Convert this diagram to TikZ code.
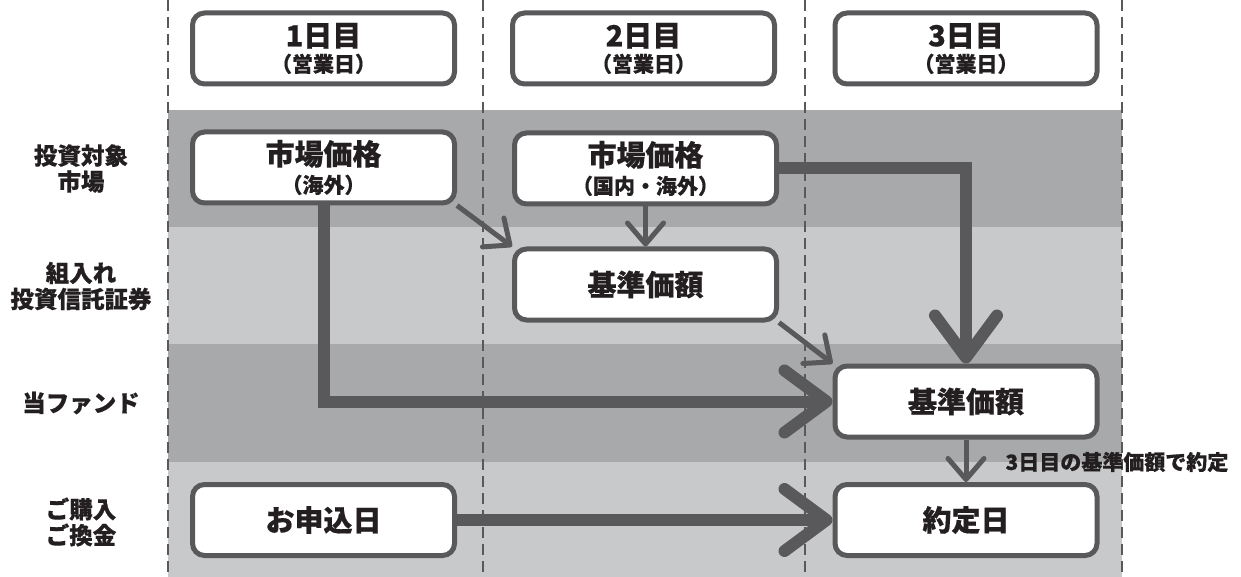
\documentclass[tikz,border=0pt]{standalone}
\usepackage{fontspec}
\setmainfont{Noto Sans CJK JP}[BoldFeatures={FakeBold=0.5}]
\usetikzlibrary{arrows.meta}
\usetikzlibrary{backgrounds}
\usetikzlibrary{positioning}
\definecolor{mline}{HTML}{59595B}
\definecolor{mdark}{HTML}{A8A9AB}
\definecolor{mlight}{HTML}{C8C9CB}
\definecolor{mtext}{HTML}{231F20}
\newcommand{\bigtxt}{\fontsize{29}{30}\selectfont}
\newcommand{\subtxt}{\fontsize{21}{22}\selectfont}
\tikzset{
  box/.style={draw=mline, line width=5pt, rounded corners=12pt, fill=white,
    minimum width=262pt, minimum height=71pt, inner sep=0pt, align=center,
    text=mtext, font=\bfseries},
  rowlabel/.style={align=center, text=mtext, font=\bfseries\fontsize{23.5}{24}\selectfont},
  thickarrow/.style={draw=mline, line width=12pt,
    -{Straight Barb[length=42pt,width=62pt,round]}},
  thinarrow/.style={draw=mline, line width=5pt,
    -{Straight Barb[length=21pt,width=36pt,round]}},
}

\begin{document}
\begin{tikzpicture}[x=1pt, y=-1pt]
  \useasboundingbox (0,0) rectangle (1241,577);

  % days
  \node [box] (h1) at (323.5, 48.5) {\bigtxt 1日目\\[4pt]\subtxt （営業日）};
  \node [box] (h2) at (643.5, 48.5) {\bigtxt 2日目\\[4pt]\subtxt （営業日）};
  \node [box] (h3) at (966, 48.5) {\bigtxt 3日目\\[4pt]\subtxt （営業日）};

  % rows
  \node [rowlabel] (r1) at (81, 168.5) {投資対象\\[2pt]市場};
  \node [rowlabel] (r2) at (81, 286) {組入れ\\[2pt]投資信託証券};
  \node [rowlabel] (r3) at (81, 403) {当ファンド};
  \node [rowlabel] (r4) at (81, 522) {ご購入\\[2pt]ご換金};

  \node [box] (m1) at (323.5, 167.5) {\bigtxt 市場価格\\[6pt]\subtxt （海外）};
  \node [box] (m2) at (645.5, 168.5) {\bigtxt 市場価格\\[6pt]\subtxt （国内・海外）};
  \node [box] (k2) at (645.5, 284.5) {\bigtxt 基準価額};
  \node [box] (k3) at (966, 401.5) {\bigtxt 基準価額};
  \node [box] (o1) at (323.5, 520) {\bigtxt お申込日};
  \node [box] (y3) at (966, 520) {\bigtxt 約定日};

  \node [anchor=west, text=mtext, font=\bfseries\fontsize{21}{24}\selectfont]
    (note) at (1002, 462) {3日目の基準価額で約定};

  \begin{scope}[on background layer]
    \fill [mdark] (168,110) rectangle (1122,227);
    \fill [mlight] (168,227) rectangle (1122,344);
    \fill [mdark] (168,344) rectangle (1122,462);
    \fill [mlight] (168,462) rectangle (1122,577);

    \draw [thickarrow] (m1.south) |- (k3.west);
    \draw [thickarrow] (m2.east) -| (k3.north);
    \draw [thickarrow] (o1.east) -- (y3.west);
    \draw [thinarrow] (m1.south east) -- (k2.north west);
    \draw [thinarrow] (m2.south) -- (k2.north);
    \draw [thinarrow] (k2.south east) -- (k3.north west);
    \draw [thinarrow] (k3.south) -- (y3.north);

    \foreach \x in {168, 483, 805, 1122}
      \draw [mline, line width=1.8pt, dash pattern=on 11pt off 6pt] (\x,0) -- (\x,577);
  \end{scope}
\end{tikzpicture}
\end{document}
